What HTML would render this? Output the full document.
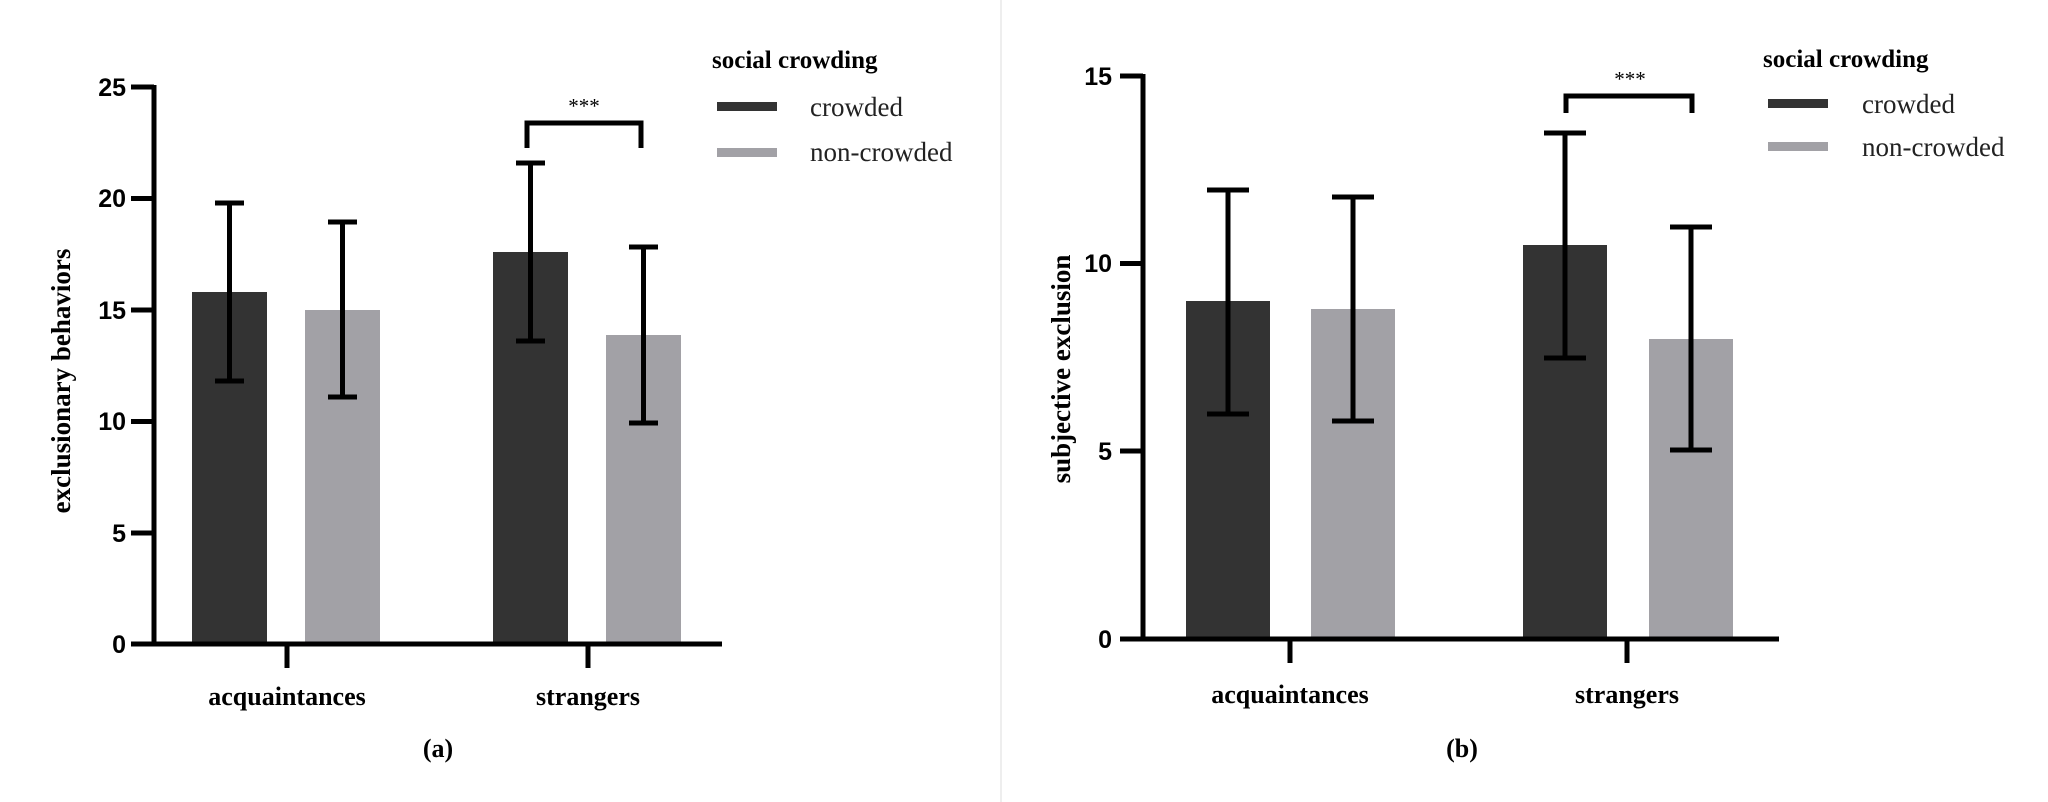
<!DOCTYPE html>
<html><head><meta charset="utf-8"><style>
html,body{margin:0;padding:0;background:#fff;}
svg{display:block;}
.tk{font-family:"Liberation Sans",Arial,sans-serif;font-weight:bold;font-size:25px;fill:#000;}
.cat{font-family:"Liberation Serif",serif;font-weight:bold;font-size:26px;fill:#000;}
.ylab{font-family:"Liberation Serif",serif;font-weight:bold;font-size:27px;fill:#000;}
.leg{font-family:"Liberation Serif",serif;font-size:27px;fill:#222;}
.legt{font-family:"Liberation Serif",serif;font-weight:bold;font-size:25px;fill:#000;}
</style></head><body>
<svg width="2048" height="802" viewBox="0 0 2048 802" xmlns="http://www.w3.org/2000/svg">
<rect width="2048" height="802" fill="#fff"/>
<line x1="1001" y1="0" x2="1001" y2="802" stroke="#eee" stroke-width="2"/>
<g>
<rect x="192" y="292" width="75" height="352" fill="#333"/>
<rect x="305" y="310" width="75" height="334" fill="#a2a1a6"/>
<rect x="493" y="252" width="75" height="392" fill="#333"/>
<rect x="606" y="335" width="75" height="309" fill="#a2a1a6"/>
<g stroke="#000" stroke-width="5" fill="none">
<path d="M229.5 381V203 M215 381H244 M215 203H244"/>
<path d="M342.5 397V222 M328 397H357 M328 222H357"/>
<path d="M530.5 341V163 M516 341H545 M516 163H545"/>
<path d="M643.5 423V247 M629 423H658 M629 247H658"/>
<path d="M154 85V646 M131 87H154 M131 198.5H154 M131 310H154 M131 421.5H154 M131 533H154 M131 644H722 M287 644V668 M588 644V668"/>
<path d="M527 148V123H641V148"/>
</g>
<text class="tk" x="126" y="96" text-anchor="end">25</text>
<text class="tk" x="126" y="207" text-anchor="end">20</text>
<text class="tk" x="126" y="319" text-anchor="end">15</text>
<text class="tk" x="126" y="430" text-anchor="end">10</text>
<text class="tk" x="126" y="542" text-anchor="end">5</text>
<text class="tk" x="126" y="653" text-anchor="end">0</text>
<text x="584" y="113" text-anchor="middle" style="font-family:'Liberation Serif',serif;font-size:21px">***</text>
<text class="cat" x="287" y="705" text-anchor="middle">acquaintances</text>
<text class="cat" x="588" y="705" text-anchor="middle">strangers</text>
<text class="cat" x="438" y="757" text-anchor="middle">(a)</text>
<text class="ylab" transform="translate(70,381) rotate(-90)" text-anchor="middle">exclusionary behaviors</text>
<text class="legt" x="712" y="68">social crowding</text>
<rect x="717" y="102" width="60" height="9" fill="#333"/>
<rect x="717" y="148" width="60" height="9" fill="#a2a1a6"/>
<text class="leg" x="810" y="116">crowded</text>
<text class="leg" x="810" y="161">non-crowded</text>
</g>
<g>
<rect x="1186" y="301" width="84" height="338" fill="#333"/>
<rect x="1311" y="309" width="84" height="330" fill="#a2a1a6"/>
<rect x="1523" y="245" width="84" height="394" fill="#333"/>
<rect x="1649" y="339" width="84" height="300" fill="#a2a1a6"/>
<g stroke="#000" stroke-width="5" fill="none">
<path d="M1228 414V190 M1207 414H1249 M1207 190H1249"/>
<path d="M1353 421V197 M1332 421H1374 M1332 197H1374"/>
<path d="M1565 358V133 M1544 358H1586 M1544 133H1586"/>
<path d="M1691 450V227 M1670 450H1712 M1670 227H1712"/>
<path d="M1143 74V641 M1120 76H1143 M1120 263.5H1143 M1120 451H1143 M1120 639H1779 M1290 639V663 M1627 639V663"/>
<path d="M1566 113V96H1692V113"/>
</g>
<text class="tk" x="1112" y="85" text-anchor="end">15</text>
<text class="tk" x="1112" y="272" text-anchor="end">10</text>
<text class="tk" x="1112" y="460" text-anchor="end">5</text>
<text class="tk" x="1112" y="648" text-anchor="end">0</text>
<text x="1630" y="86" text-anchor="middle" style="font-family:'Liberation Serif',serif;font-size:21px">***</text>
<text class="cat" x="1290" y="703" text-anchor="middle">acquaintances</text>
<text class="cat" x="1627" y="703" text-anchor="middle">strangers</text>
<text class="cat" x="1462" y="757" text-anchor="middle">(b)</text>
<text class="ylab" transform="translate(1070,369) rotate(-90)" text-anchor="middle">subjective exclusion</text>
<text class="legt" x="1763" y="67">social crowding</text>
<rect x="1768" y="99" width="60" height="9" fill="#333"/>
<rect x="1768" y="142" width="60" height="9" fill="#a2a1a6"/>
<text class="leg" x="1862" y="113">crowded</text>
<text class="leg" x="1862" y="156">non-crowded</text>
</g>
</svg>
</body></html>
